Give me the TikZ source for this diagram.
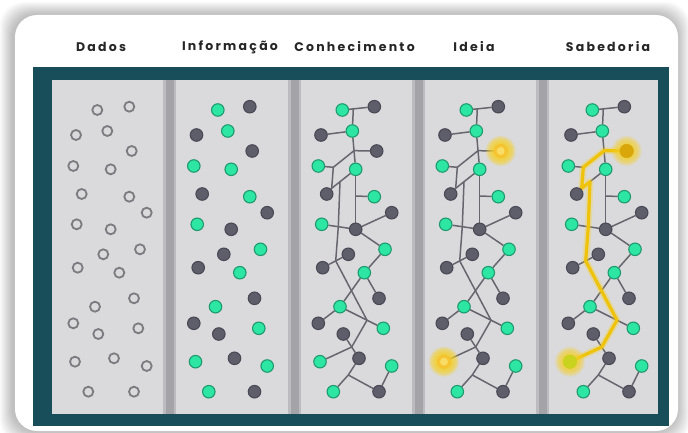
\documentclass[tikz,border=0pt]{standalone}
\usepackage{fontspec}
\newfontfamily\titlefont{Poppins}[LetterSpace=18]
\usetikzlibrary{fadings}

\definecolor{frameteal}{HTML}{174E5A}
\definecolor{panelgray}{HTML}{DADADC}
\definecolor{stripgray}{HTML}{A4A4A8}
\definecolor{fillG}{HTML}{2EE6A4}
\definecolor{rimG}{HTML}{1E9A6E}
\definecolor{fillD}{HTML}{5E5D6A}
\definecolor{rimD}{HTML}{4A4956}
\definecolor{linkgray}{HTML}{67666F}
\definecolor{ringgray}{HTML}{7C7C80}
\definecolor{glowyellow}{HTML}{F7D126}
\definecolor{pathgold}{HTML}{EFC20B}
\definecolor{ideacore}{HTML}{F5C430}
\definecolor{ideacentre}{HTML}{F9DC66}
\definecolor{wisecore}{HTML}{D9A70A}
\definecolor{wiselime}{HTML}{C9D21C}
\definecolor{titleink}{HTML}{262626}

\pgfdeclarelayer{back}
\pgfdeclarelayer{links}
\pgfsetlayers{back,links,main}

\tikzset{
  dot/.style={circle, inner sep=0pt, minimum size=12.5pt, line width=1.1pt},
  ring/.style={circle, inner sep=0pt, minimum size=10pt, draw=ringgray, line width=1.8pt},
  link/.style={draw=linkgray, line width=1.5pt},
  title/.style={font=\titlefont\bfseries\fontsize{12.5}{13}\selectfont, text=titleink},
  goldpath/.style={draw=pathgold, line width=3.2pt, line join=round, line cap=round},
  goldhalo/.style={draw=glowyellow, line width=7pt, opacity=0.3, line join=round, line cap=round},
}

% dot layout of one panel: index / x / y / kind (G = green, D = dark)
\def\dotlist{1/342.3/110/G,2/374.3/106.7/D,3/321/135/D,4/352.3/131/G,5/376.7/151/D,
  6/318.3/166/G,7/355.7/169.3/G,8/326.7/194/D,9/374.3/196.7/G,10/391.7/212.7/D,
  11/321.7/224.3/G,12/355.7/229.3/D,13/348.3/254.3/D,14/385/249.3/G,15/322.7/267.7/D,
  16/364.3/272.7/G,17/379/298.3/D,18/340/306.7/G,19/318.3/323.3/D,20/343.3/334/D,
  21/383.3/328.3/G,22/320/361.7/G,23/359/358.3/D,24/391.7/366/G,25/333.3/391.7/G,
  26/379/391.7/D}
% branching points of the network
\def\jointlist{0/353.3/108.9,1/354/150.7,2/333.3/167.3,3/331.7/188.3,4/340/181.7,
  5/338.3/226.7,6/335.7/260.9,7/355.7/196,8/367/320.2,9/351.7/347,10/348.3/375}
% connections of the network
\def\linklist{1/2,j0/4,3/4,4/j1,j1/7,7/j7,j7/12,j7/9,j1/5,j1/j2,6/j2,j2/j3,j3/8,
  j3/j4,j4/7,j4/j5,11/j5,j5/12,12/10,12/14,j5/j6,15/j6,j6/13,j6/j8,14/16,16/18,
  18/19,16/17,18/j8,j8/21,j8/j9,20/j9,j9/23,22/j9,23/j10,25/j10,j10/26,24/26}

\newcommand\glowdisc[4]{% centre, core colour, glow colour, glow strength
  \foreach \r in {15,14,...,8}{\fill[#3, opacity=#4] (#1) circle (\r);}
  \fill[#2] (#1) circle (7);
}

\begin{document}
\begin{tikzpicture}[x=1pt, y=-1pt]
\useasboundingbox (0,0) rectangle (688,433);

\begin{pgfonlayer}{back}
  \fill[white] (0,0) rectangle (688,433);
  % soft shadow of the card
  \foreach \s in {1,...,13}
    \fill[black, opacity=0.02, rounded corners=24pt] (15-\s-2,15-\s) rectangle (678+\s-1,431+\s);
  \fill[white, rounded corners=22pt] (15,15) rectangle (678,431);
  % frame and panels
  \fill[frameteal] (33,67) rectangle (669,426);
  \fill[panelgray] (52,80) rectangle (658,414);
  \foreach \a/\b in {163/176,288/301,412/425,536/549}{
    \fill[stripgray!55!panelgray] (\a,80) rectangle (\b,414);
    \fill[stripgray] (\a+2.5,80) rectangle (\b-2.5,414);
  }
\end{pgfonlayer}

% column titles
\node[title] (t1) at (101,47) {Dados};
\node[title] (t2) at (230,47) {Informação};
\node[title] (t3) at (354.5,47) {Conhecimento};
\node[title] (t4) at (474,47) {Ideia};
\node[title] (t5) at (608,47) {Sabedoria};

% Dados: empty rings
\foreach \i/\x/\y/\k in \dotlist { \node[ring] (d-\i) at (\x-245,\y) {}; }

% Informação: coloured dots
\foreach \i/\x/\y/\k in \dotlist { \node[dot, fill=fill\k, draw=rim\k] (i-\i) at (\x-124.5,\y) {}; }

% Conhecimento, Ideia, Sabedoria: connected network
\foreach \p/\dx in {c/0,e/124,s/250}{
  \foreach \i/\x/\y/\k in \dotlist { \node[dot, fill=fill\k, draw=rim\k] (\p-\i) at (\x+\dx,\y) {}; }
  \foreach \j/\x/\y in \jointlist { \coordinate (\p-j\j) at (\x+\dx,\y); }
  \begin{pgfonlayer}{links}
    \foreach \a/\b in \linklist { \draw[link] (\p-\a) -- (\p-\b); }
  \end{pgfonlayer}
}

% Ideia: two ideas light up
\glowdisc{e-5}{ideacore}{glowyellow}{0.2}
\fill[ideacentre] (e-5) circle (4);
\glowdisc{e-22}{ideacore}{glowyellow}{0.2}
\fill[ideacentre] (e-22) circle (4);

% Sabedoria: the path joining them
\begin{pgfonlayer}{links}
  \draw[goldhalo] (s-5.center) -- (s-j1) -- (s-j2) -- (s-j3) -- (s-j4) -- (s-j5) -- (s-j6) -- (s-j8) -- (s-j9) -- (s-22.center);
  \draw[goldpath] (s-5.center) -- (s-j1) -- (s-j2) -- (s-j3) -- (s-j4) -- (s-j5) -- (s-j6) -- (s-j8) -- (s-j9) -- (s-22.center);
\end{pgfonlayer}
\glowdisc{s-5}{wisecore}{glowyellow}{0.16}
\glowdisc{s-22}{wiselime}{glowyellow}{0.16}
\end{tikzpicture}
\end{document}
